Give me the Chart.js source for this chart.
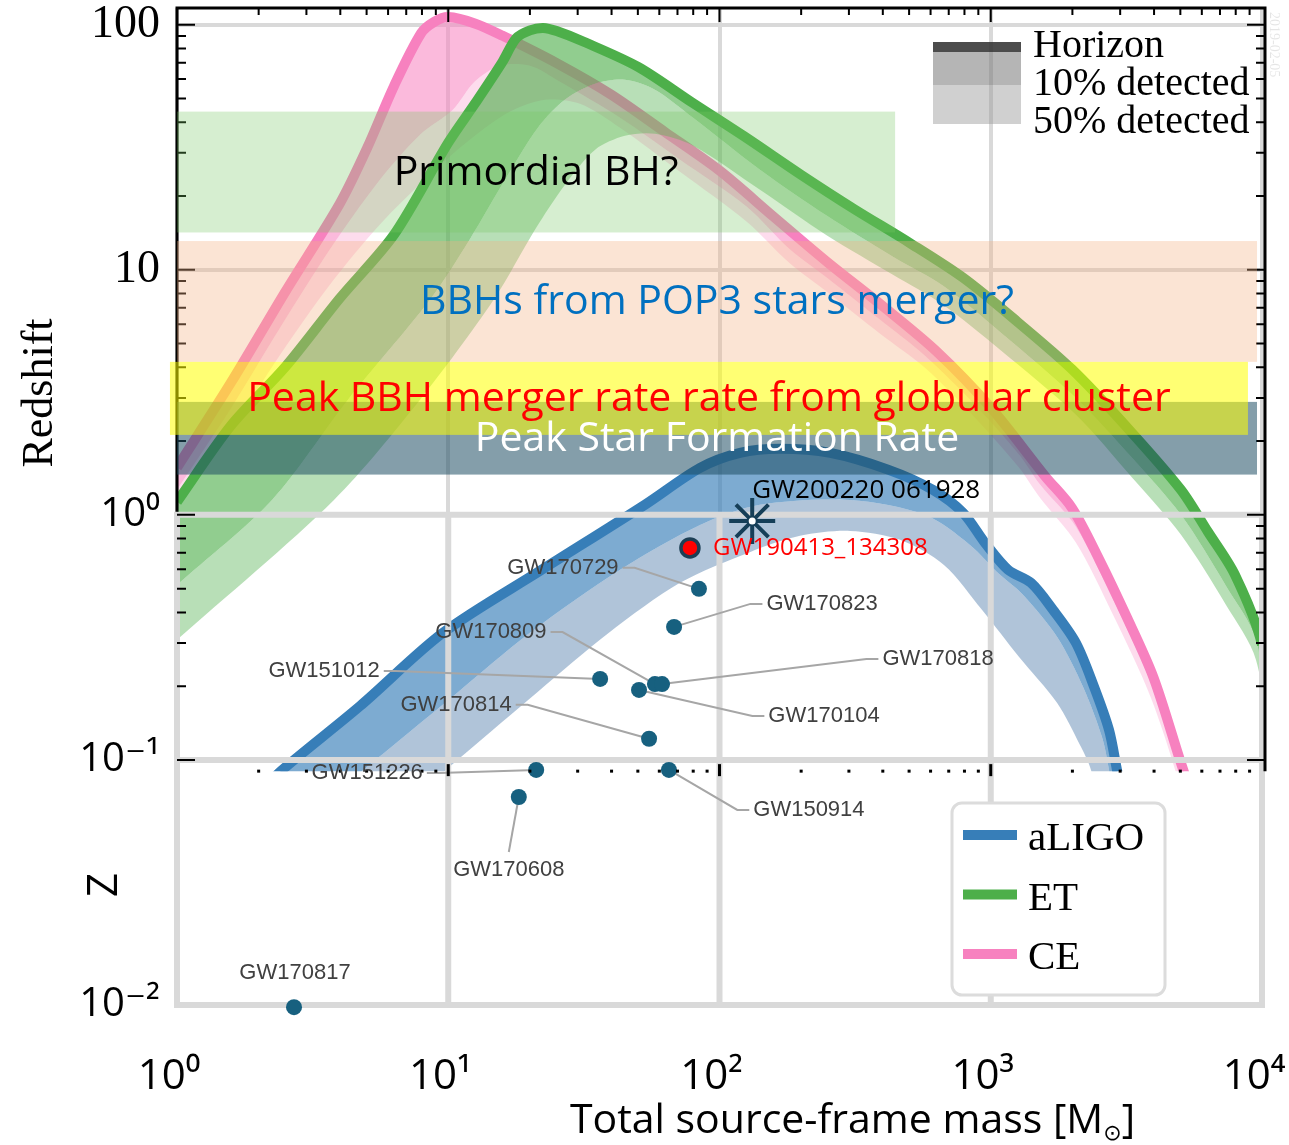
<!DOCTYPE html>
<html lang="en">
<head>
<meta charset="utf-8">
<title>Detector horizons and BBH populations</title>
<script src="https://cdn.jsdelivr.net/npm/chart.js@4.4.1/dist/chart.umd.min.js"></script>
<style>
  html, body { margin: 0; padding: 0; background: #ffffff; }
  canvas { display: block; }
</style>
</head>
<body>
<canvas id="chart" width="1289" height="1145"></canvas>
<script>
// ---------------- axis ticks ----------------
const xTickValues = [1, 10, 100, 1000, 10000];
const xTickLabels = ['10⁰', '10¹', '10²', '10³', '10⁴'];
const yTickValues = [0.01, 0.1, 1, 10, 100];
const yTickLabels = ['10⁻²', '10⁻¹', '10⁰', '10', '100'];
const yAxisMax = 117;
const upperFloorZ = 0.09;   // lower edge of the horizon panel

// ---------------- Cosmic Explorer (CE) ----------------
const ceMass          = [1, 1.58, 2.51, 3.98, 5.01, 6.31, 7.94, 8.91, 10, 12.6, 15.8, 25.1, 39.8, 63.1, 100, 158, 251, 398, 631, 1000, 1585, 1995, 2512, 3162, 3981, 5012, 5500];
const ceHorizonZ      = [1.56, 3.46, 8.15, 18.6, 31.2, 56.2, 92.3, 102.9, 107.4, 101, 90.3, 69.7, 51.9, 36.4, 25.4, 16.5, 10.7, 7.14, 4.65, 2.74, 1.44, 1.065, 0.658, 0.386, 0.217, 0.098, 0.072];
const ceTenPctMass    = [1, 1.568, 2.40, 3.66, 5.60, 7.87, 10.4, 12.5, 15.5, 20.0, 25.8, 43.0, 71.5, 126, 182, 249, 391, 572, 875, 1272, 1519, 2062, 2823, 3897, 5028, 5428];
const ceTenPctZ       = [1.265, 2.68, 5.80, 12.1, 23.3, 35.6, 45.0, 58.5, 68.0, 68.0, 58.5, 41.7, 28.1, 18.1, 12.1, 9.28, 6.25, 4.46, 2.81, 1.76, 1.33, 0.893, 0.450, 0.206, 0.0868, 0.0569];
const ceFiftyPctMass  = [1, 1.568, 2.40, 3.66, 5.60, 8.56, 12.0, 16.9, 22.7, 30.6, 43.0, 71.5, 126, 182, 249, 391, 572, 875, 1272, 1519, 2062, 2823, 3897, 5028, 5337];
const ceFiftyPctZ     = [1.068, 2.18, 4.50, 8.69, 15.3, 24.4, 33.9, 44.2, 49.4, 47.6, 38.0, 25.1, 15.7, 10.6, 8.13, 5.48, 3.98, 2.49, 1.555, 1.173, 0.769, 0.391, 0.179, 0.0754, 0.0518];

// ---------------- Einstein Telescope (ET) ----------------
const etMass          = [1, 1.58, 2.51, 3.98, 6.31, 10, 12.6, 15.8, 17.8, 20, 22.4, 25.1, 31.6, 50.1, 79.4, 126, 200, 316, 501, 794, 1259, 1995, 3162, 5012, 6310, 7943, 10000, 11500];
const etHorizonZ      = [1.13, 2.31, 4.02, 7.64, 13.9, 33.0, 48.0, 70.2, 88.0, 94.8, 97.0, 94.2, 85.2, 67.3, 48.1, 34.5, 24.4, 17.6, 12.9, 9.25, 6.11, 3.92, 2.29, 1.27, 0.855, 0.570, 0.295, 0.10];
const etTenPctMass    = [1, 2.24, 4.27, 8.56, 12.0, 16.6, 21.4, 26.9, 34.8, 44.8, 57.8, 79.9, 141, 249, 436, 667, 1082, 2062, 3317, 5028, 7368, 9504, 11652];
const etTenPctZ       = [0.518, 1.151, 2.95, 7.54, 13.3, 24.4, 38.0, 49.4, 57.4, 59.6, 54.3, 41.7, 25.6, 16.6, 11.3, 8.60, 5.58, 3.00, 1.71, 1.00, 0.513, 0.309, 0.079];
const etFiftyPctMass  = [1, 3.79, 7.87, 14.7, 20.9, 26.9, 34.8, 44.8, 57.8, 79.9, 141, 249, 436, 667, 1082, 2062, 3317, 5028, 7368, 9504, 11652];
const etFiftyPctZ     = [0.309, 1.151, 2.95, 7.54, 14.6, 22.2, 30.9, 35.2, 35.9, 32.1, 21.2, 13.8, 9.54, 7.20, 4.72, 2.56, 1.42, 0.829, 0.429, 0.256, 0.0687];

// ---------------- Advanced LIGO ----------------
const ligoHorizonMass   = [2.06, 2.44, 4.73, 9.56, 21.8, 53.1, 84.8, 119, 167, 256, 418, 612, 790, 952, 1158, 1407, 1696, 2062, 2403, 2729, 2920, 3126];
const ligoHorizonZ      = [0.0754, 0.091, 0.166, 0.330, 0.591, 1.10, 1.555, 1.79, 1.86, 1.79, 1.53, 1.265, 1.02, 0.769, 0.597, 0.528, 0.410, 0.300, 0.199, 0.1326, 0.091, 0.0625];
const ligoTenPctMass    = [3.99, 4.85, 5.80, 10.8, 20.0, 43.0, 84.8, 141, 303, 572, 838, 1082, 1315, 1755, 2188, 2571, 2729, 2871];
const ligoTenPctZ       = [0.0754, 0.091, 0.1068, 0.188, 0.330, 0.597, 0.910, 1.10, 1.15, 1.00, 0.754, 0.569, 0.472, 0.318, 0.199, 0.124, 0.091, 0.0625];
const ligoFiftyPctMass  = [8.21, 9.81, 11.6, 21.2, 39.1, 71.5, 130, 198, 303, 463, 672, 928, 1272, 1755, 2133, 2342, 2486];
const ligoFiftyPctZ     = [0.0754, 0.091, 0.1068, 0.188, 0.330, 0.528, 0.706, 0.821, 0.860, 0.791, 0.625, 0.410, 0.263, 0.171, 0.115, 0.091, 0.0625];

// ---------------- detected events ----------------
const gwtc1Names = ['GW150914', 'GW151012', 'GW151226', 'GW170104', 'GW170608', 'GW170729', 'GW170809', 'GW170814', 'GW170817', 'GW170818', 'GW170823'];
const gwtc1Mass  = [65.1, 36.3, 21.1, 50.5, 18.2, 84.0, 57.8, 55.0, 2.70, 61.4, 68.0];
const gwtc1Z     = [0.091, 0.214, 0.091, 0.193, 0.0706, 0.499, 0.204, 0.122, 0.0098, 0.204, 0.349];

const highlightNames = ['GW190413_134308', 'GW200220 061928'];
const highlightMass  = [77.8, 132];
const highlightZ     = [0.733, 0.945];

// ---------------- redshift regions ----------------
const regionNames     = ['Primordial BH?', 'BBHs from POP3 stars merger?', 'Peak Star Formation Rate', 'Peak BBH merger rate rate from globular cluster'];
const regionZLow      = [14.2, 4.21, 1.46, 2.12];
const regionZHigh     = [44.2, 13.1, 2.89, 4.21];
const regionMassLow   = [1, 1, 1, 0.942];
const regionMassHigh  = [444, 9585, 9585, 8876];

// ---------------- legend texts ----------------
const detectorNames = ['aLIGO', 'ET', 'CE'];
const detectionLevels = ['Horizon', '10% detected', '50% detected'];

// ---------------- styles ----------------
const SANS  = '"Open Sans", "DejaVu Sans", sans-serif';
const SERIF = '"Liberation Serif", "Times New Roman", serif';
const ARIAL = '"Liberation Sans", Arial, sans-serif';

const detectorColors = ['#377eb8', '#4daf4a', '#f781bf'];
const bandFill = {
  CE:    ['rgba(247,129,191,0.55)', 'rgba(247,129,191,0.28)'],
  ET:    ['rgba(77,175,74,0.62)',   'rgba(77,175,74,0.40)'],
  aLIGO: ['rgba(55,126,184,0.65)',  'rgba(80,125,170,0.45)']
};
const regionFill = ['rgba(120,200,100,0.30)', 'rgba(244,177,131,0.35)', 'rgba(31,78,100,0.55)', 'rgba(255,255,0,0.55)'];
const regionText = ['#000000', '#0070c0', '#ffffff', '#ff0000'];
const pointColor = '#17607f';

// label placement of each event: [dx, dy, side where the leader leaves the label]
const eventLabelPlacement = {
  GW150914: [140, 40, 'L'],
  GW151012: [-276, -8, 'R'],
  GW151226: [-169, 3, 'R'],
  GW170104: [185, 26, 'L'],
  GW170608: [-10, 73, 'T'],
  GW170729: [-136, -21, 'R'],
  GW170809: [-164, -52, 'R'],
  GW170814: [-193, -34, 'R'],
  GW170817: [1, -34, ''],
  GW170818: [276, -25, 'L'],
  GW170823: [148, -23, 'L']
};

// ---------------- helpers ----------------
const pts = (ms, zs) => ms.map((m, i) => ({ x: m, y: zs[i] }));
function bandData(outerM, outerZ, innerM, innerZ) {
  return pts(outerM, outerZ).concat(pts(innerM, innerZ).reverse());
}
function bandSet(label, outerM, outerZ, innerM, innerZ, color) {
  return { label, data: bandData(outerM, outerZ, innerM, innerZ), fill: 'shape',
           backgroundColor: color, borderWidth: 0, borderColor: 'rgba(0,0,0,0)',
           tension: 0.3, pointRadius: 0 };
}
function horizonSet(label, ms, zs, color) {
  return { label, data: pts(ms, zs), fill: false, borderColor: color, borderWidth: 10,
           borderCapStyle: 'butt', borderJoinStyle: 'round', tension: 0.3, pointRadius: 0 };
}

const datasets = [
  bandSet('CE 50%', ceTenPctMass, ceTenPctZ, ceFiftyPctMass, ceFiftyPctZ, bandFill.CE[1]),
  bandSet('CE 10%', ceMass, ceHorizonZ, ceTenPctMass, ceTenPctZ, bandFill.CE[0]),
  horizonSet('CE horizon', ceMass, ceHorizonZ, detectorColors[2]),
  bandSet('ET 50%', etTenPctMass, etTenPctZ, etFiftyPctMass, etFiftyPctZ, bandFill.ET[1]),
  bandSet('ET 10%', etMass, etHorizonZ, etTenPctMass, etTenPctZ, bandFill.ET[0]),
  horizonSet('ET horizon', etMass, etHorizonZ, detectorColors[1]),
  bandSet('aLIGO 50%', ligoTenPctMass, ligoTenPctZ, ligoFiftyPctMass, ligoFiftyPctZ, bandFill.aLIGO[1]),
  bandSet('aLIGO 10%', ligoHorizonMass, ligoHorizonZ, ligoTenPctMass, ligoTenPctZ, bandFill.aLIGO[0]),
  horizonSet('aLIGO horizon', ligoHorizonMass, ligoHorizonZ, detectorColors[0]),
  { label: 'GWTC-1', data: pts(gwtc1Mass, gwtc1Z), showLine: false, pointRadius: 8,
    pointBackgroundColor: pointColor, pointBorderWidth: 0, clip: 20 },
  { label: highlightNames[0], data: [{ x: highlightMass[0], y: highlightZ[0] }], showLine: false,
    pointRadius: 9, pointBackgroundColor: '#ff0000', pointBorderColor: '#1d3f55', pointBorderWidth: 3.5, clip: 20 },
  { label: highlightNames[1], data: [{ x: highlightMass[1], y: highlightZ[1] }], showLine: false,
    pointStyle: 'star', pointRadius: 23, pointBorderColor: '#163f58', pointBorderWidth: 4,
    pointBackgroundColor: 'rgba(0,0,0,0)', clip: 30 },
  { label: highlightNames[1] + ' centre', data: [{ x: highlightMass[1], y: highlightZ[1] }], showLine: false,
    pointStyle: 'circle', pointRadius: 4.5, pointBackgroundColor: '#ffffff', pointBorderColor: '#163f58',
    pointBorderWidth: 2, clip: 30 }
];
datasets.forEach((d, i) => { d.order = 100 - i; });
const lastCurveIndex = 8;

// ---------------- drawing pieces ----------------
function drawLowerPanelGrid(chart) {
  const { ctx, scales: { x, y } } = chart;
  const x0 = x.getPixelForValue(xTickValues[0]) - 3;
  const x1 = x.getPixelForValue(xTickValues[xTickValues.length - 1]) + 3;
  const lowerZ = yTickValues.filter(v => v <= 1);
  const yTop = y.getPixelForValue(1), yBot = y.getPixelForValue(0.01);
  ctx.save();
  ctx.strokeStyle = '#d9d9d9'; ctx.lineWidth = 6;
  ctx.beginPath();
  lowerZ.forEach(z => { const py = y.getPixelForValue(z); ctx.moveTo(x0, py); ctx.lineTo(x1, py); });
  xTickValues.forEach(m => { const px = x.getPixelForValue(m); ctx.moveTo(px, yTop); ctx.lineTo(px, yBot + 3); });
  ctx.stroke();
  ctx.restore();
}

function drawLeaders(chart) {
  const { ctx, scales: { x, y } } = chart;
  ctx.save();
  ctx.font = `22px ${ARIAL}`;
  ctx.strokeStyle = '#a6a6a6'; ctx.lineWidth = 2;
  gwtc1Names.forEach((name, i) => {
    const [dx, dy, side] = eventLabelPlacement[name];
    if (!side) return;
    const px = x.getPixelForValue(gwtc1Mass[i]), py = y.getPixelForValue(gwtc1Z[i]);
    const lx = px + dx, ly = py + dy, hw = ctx.measureText(name).width / 2;
    ctx.beginPath();
    if (side === 'R') { ctx.moveTo(lx + hw + 4, ly); ctx.lineTo(lx + hw + 16, ly); }
    else if (side === 'L') { ctx.moveTo(lx - hw - 4, ly); ctx.lineTo(lx - hw - 16, ly); }
    else { ctx.moveTo(lx, ly - 18); }
    ctx.lineTo(px, py);
    ctx.stroke();
  });
  ctx.restore();
}

function drawUpperFrame(chart) {
  const { ctx, chartArea: a, scales: { x, y } } = chart;
  const yFloor = y.getPixelForValue(upperFloorZ);
  const xr = a.right + 3;
  ctx.save();
  ctx.strokeStyle = '#000'; ctx.fillStyle = '#000';
  ctx.lineWidth = 3;
  ctx.beginPath();
  ctx.moveTo(a.left, y.getPixelForValue(1) - 3);
  ctx.lineTo(a.left, a.top); ctx.lineTo(xr, a.top); ctx.lineTo(xr, yFloor);
  ctx.stroke();
  ctx.lineWidth = 2;
  ctx.beginPath();
  [1, 10, 100, 1000].forEach(d => {
    for (let j = 2; j <= 10; j++) {
      const m = j * d;
      if (m >= 10000) continue;
      const px = x.getPixelForValue(m), len = j === 10 ? 14 : 7;
      ctx.moveTo(px, a.top); ctx.lineTo(px, a.top + len);
    }
  });
  [0.01, 0.1, 1, 10].forEach(d => {
    for (let j = 2; j <= 10; j++) {
      const z = j * d;
      if (z <= upperFloorZ * 1.01) continue;
      const py = y.getPixelForValue(z), len = j === 10 ? 18 : 9;
      ctx.moveTo(a.left, py); ctx.lineTo(a.left + len, py);
      ctx.moveTo(xr, py); ctx.lineTo(xr - len, py);
    }
  });
  ctx.stroke();
  [1, 10, 100, 1000].forEach(d => {
    for (let j = 2; j <= 10; j++) {
      const m = j * d;
      if (m >= 10000) continue;
      const px = x.getPixelForValue(m);
      if (j === 10) ctx.fillRect(px - 1.5, yFloor - 7, 3, 12);
      else ctx.fillRect(px - 1.5, yFloor - 1.5, 3, 3);
    }
  });
  ctx.restore();
}

function drawRegions(chart) {
  const { ctx, scales: { x, y } } = chart;
  ctx.save();
  const boxes = regionNames.map((_, i) => ({
    x0: x.getPixelForValue(regionMassLow[i]), x1: x.getPixelForValue(regionMassHigh[i]),
    y0: y.getPixelForValue(regionZHigh[i]), y1: y.getPixelForValue(regionZLow[i])
  }));
  boxes.forEach((b, i) => { ctx.fillStyle = regionFill[i]; ctx.fillRect(b.x0, b.y0, b.x1 - b.x0, b.y1 - b.y0); });
  ctx.font = `41px ${SANS}`; ctx.textAlign = 'center'; ctx.textBaseline = 'middle';
  boxes.forEach((b, i) => {
    ctx.fillStyle = regionText[i];
    ctx.fillText(regionNames[i], (b.x0 + b.x1) / 2, (b.y0 + b.y1) / 2 + 1);
  });
  ctx.restore();
}

function drawEventLabels(chart) {
  const { ctx, scales: { x, y } } = chart;
  ctx.save();
  ctx.textBaseline = 'middle';
  ctx.font = `22px ${ARIAL}`; ctx.fillStyle = '#404040'; ctx.textAlign = 'center';
  gwtc1Names.forEach((name, i) => {
    const [dx, dy] = eventLabelPlacement[name];
    ctx.fillText(name, x.getPixelForValue(gwtc1Mass[i]) + dx, y.getPixelForValue(gwtc1Z[i]) + dy);
  });
  ctx.font = `24px ${SANS}`; ctx.fillStyle = '#ff0000'; ctx.textAlign = 'left';
  ctx.fillText(highlightNames[0], x.getPixelForValue(highlightMass[0]) + 23, y.getPixelForValue(highlightZ[0]));
  ctx.font = `26px ${SANS}`; ctx.fillStyle = '#000000'; ctx.textAlign = 'center';
  ctx.fillText(highlightNames[1], x.getPixelForValue(highlightMass[1]) + 114, y.getPixelForValue(highlightZ[1]) - 30);
  ctx.restore();
}

function drawLegends(chart) {
  const { ctx, chartArea: a } = chart;
  ctx.save();
  // detection level key
  const kx = a.right - 329, ky = a.top + 34;
  ctx.fillStyle = 'rgba(150,150,150,0.45)'; ctx.fillRect(kx, ky + 43, 88, 39);
  ctx.fillStyle = 'rgba(120,120,120,0.55)'; ctx.fillRect(kx, ky + 10, 88, 33);
  ctx.fillStyle = 'rgba(45,45,45,0.85)';   ctx.fillRect(kx, ky, 88, 10);
  ctx.fillStyle = '#000'; ctx.font = `40px ${SERIF}`; ctx.textAlign = 'left'; ctx.textBaseline = 'alphabetic';
  detectionLevels.forEach((t, i) => ctx.fillText(t, kx + 100, ky + 15 + i * 38));

  // detector legend
  const bx = a.right - 310, by = a.bottom - 202, bw = 213, bh = 192;
  ctx.beginPath();
  ctx.roundRect(bx, by, bw, bh, 10);
  ctx.fillStyle = '#ffffff'; ctx.fill();
  ctx.lineWidth = 3; ctx.strokeStyle = '#dcdcdc'; ctx.stroke();
  ctx.font = `41px ${SERIF}`;
  detectorNames.forEach((n, i) => {
    const cy = by + 32 + i * 59.5;
    ctx.fillStyle = detectorColors[i];
    ctx.fillRect(bx + 11, cy - 5, 54, 10);
    ctx.fillStyle = '#000';
    ctx.fillText(n, bx + 76, cy + 15);
  });
  ctx.restore();
}

function drawTitles(chart) {
  const { ctx, chartArea: a } = chart;
  ctx.save();
  ctx.fillStyle = '#000';
  ctx.textBaseline = 'alphabetic'; ctx.textAlign = 'left';
  const main = 'Total source-frame mass [M', sub = '⊙', close = ']';
  ctx.font = `41px ${SANS}`;
  const wMain = ctx.measureText(main).width, wClose = ctx.measureText(close).width;
  ctx.font = `22px ${SANS}`;
  const wSub = ctx.measureText(sub).width;
  const cx = (a.left + a.right) / 2 + 133, base = a.bottom + 128;
  const sx = cx - (wMain + wSub + wClose) / 2;
  ctx.font = `41px ${SANS}`; ctx.fillText(main, sx, base);
  ctx.font = `22px ${SANS}`; ctx.fillText(sub, sx + wMain, base + 7);
  ctx.font = `41px ${SANS}`; ctx.fillText(close, sx + wMain + wSub, base);

  ctx.textAlign = 'center'; ctx.textBaseline = 'middle';
  ctx.save(); ctx.translate(40, 393); ctx.rotate(-Math.PI / 2);
  ctx.font = `44px ${SERIF}`; ctx.fillText('Redshift', 0, 0); ctx.restore();
  ctx.save(); ctx.translate(105, 885); ctx.rotate(-Math.PI / 2);
  ctx.font = `42px ${SANS}`; ctx.fillText('Z', 0, 0); ctx.restore();

  // date stamp on the horizon panel
  ctx.save(); ctx.translate(a.right + 12, a.top + 4); ctx.rotate(Math.PI / 2);
  ctx.textAlign = 'left'; ctx.font = `14px ${SERIF}`; ctx.fillStyle = 'rgba(0,0,0,0.10)';
  ctx.fillText('2019-02-05', 0, 0); ctx.restore();
  ctx.restore();
}

// ---------------- plugin ----------------
let upperClipActive = false;
const panelPlugin = {
  id: 'horizonPanels',
  beforeDraw(chart) {
    const c = chart.ctx;
    c.save(); c.fillStyle = '#ffffff'; c.fillRect(0, 0, chart.width, chart.height); c.restore();
  },
  beforeDatasetsDraw(chart) {
    const { ctx, chartArea: a, scales: { y } } = chart;
    ctx.save();
    ctx.beginPath();
    ctx.rect(a.left, a.top, a.right - a.left, y.getPixelForValue(upperFloorZ) - a.top);
    ctx.clip();
    upperClipActive = true;
  },
  afterDatasetDraw(chart, args) {
    if (args.index === lastCurveIndex && upperClipActive) {
      chart.ctx.restore();
      upperClipActive = false;
      drawLowerPanelGrid(chart);
      drawLeaders(chart);
    }
  },
  afterDatasetsDraw(chart) {
    if (upperClipActive) { chart.ctx.restore(); upperClipActive = false; }
    drawUpperFrame(chart);
    drawRegions(chart);
    drawEventLabels(chart);
    drawLegends(chart);
    drawTitles(chart);
  }
};

// ---------------- chart ----------------
Chart.defaults.font.family = SANS;
new Chart(document.getElementById('chart'), {
  type: 'line',
  data: { datasets },
  options: {
    responsive: false,
    animation: false,
    devicePixelRatio: 1,
    events: [],
    layout: { autoPadding: false, padding: { top: 8, right: 27, left: 0, bottom: 0 } },
    plugins: { legend: { display: false }, tooltip: { enabled: false } },
    scales: {
      x: {
        type: 'logarithmic', min: 1, max: 10000,
        afterBuildTicks: s => { s.ticks = xTickValues.map(v => ({ value: v })); },
        afterFit: s => { s.height = 140; s.paddingLeft = 0; s.paddingRight = 0; },
        grid: { color: '#d9d9d9', lineWidth: 4, drawTicks: false },
        border: { display: false },
        ticks: {
          autoSkip: false, maxRotation: 0, padding: 47, labelOffset: -8, color: '#000',
          font: { family: SANS, size: 42 },
          callback: (v, i) => xTickLabels[i]
        }
      },
      y: {
        type: 'logarithmic', min: 0.01, max: yAxisMax,
        afterBuildTicks: s => { s.ticks = yTickValues.map(v => ({ value: v })); },
        afterFit: s => { s.width = 177; s.paddingTop = 0; s.paddingBottom = 0; },
        grid: { color: '#d9d9d9', lineWidth: 4, drawTicks: false },
        border: { display: false },
        ticks: {
          autoSkip: false, padding: 17, color: '#000',
          font: c => (c.tick && c.tick.value >= 10) ? { family: SERIF, size: 46 } : { family: SANS, size: 40 },
          callback: (v, i) => yTickLabels[i]
        }
      }
    }
  },
  plugins: [panelPlugin]
});
</script>
</body>
</html>
